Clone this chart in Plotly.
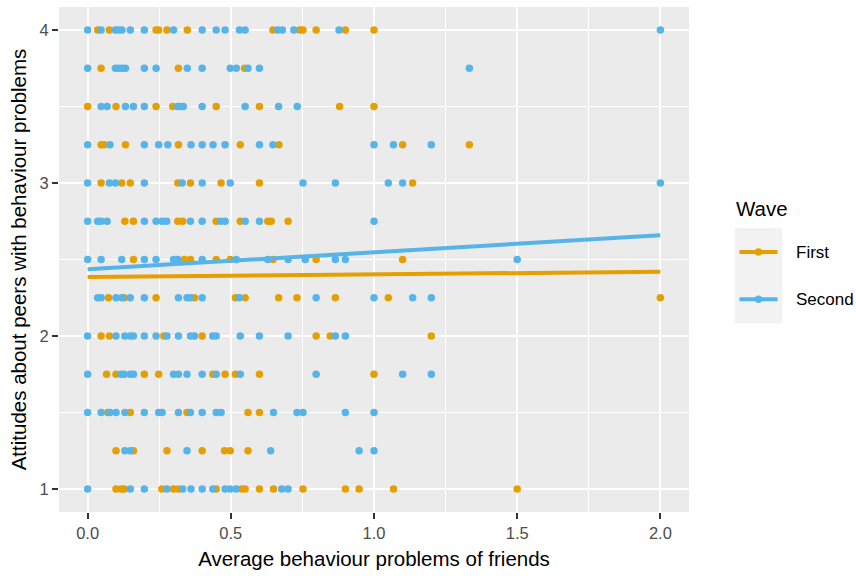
import plotly.graph_objects as go

# ---- data ----
first_rows = [
    (4.00, [0.035, 0.076, 0.239, 0.248, 0.277, 0.348, 0.647, 0.74, 0.752, 0.798, 0.9, 1.0]),
    (3.75, [0.047, 0.317, 0.548]),
    (3.50, [0.0, 0.099, 0.239, 0.297, 0.449, 0.6, 0.88, 1.0]),
    (3.25, [0.047, 0.058, 0.132, 0.317, 0.533, 0.668, 1.1, 1.333]),
    (3.00, [0.047, 0.119, 0.149, 0.315, 0.359, 0.466, 0.6, 1.135]),
    (2.75, [0.13, 0.16, 0.315, 0.332, 0.449, 0.533, 0.629, 0.641, 0.7]),
    (2.50, [0.16, 0.338, 0.359, 0.449, 0.498, 0.647, 0.798, 1.1]),
    (2.25, [0.073, 0.128, 0.239, 0.373, 0.516, 0.55, 0.667, 0.731, 0.865, 1.05, 2.0]),
    (2.00, [0.047, 0.076, 0.266, 0.4, 0.798, 0.847, 1.2]),
    (1.75, [0.066, 0.099, 0.198, 0.248, 0.437, 0.48, 0.516, 0.6, 1.0]),
    (1.50, [0.07, 0.149, 0.347, 0.56, 0.6]),
    (1.25, [0.099, 0.16, 0.277, 0.4, 0.478, 0.498, 0.56]),
    (1.00, [0.099, 0.117, 0.128, 0.259, 0.3, 0.317, 0.449, 0.538, 0.55, 0.6, 0.649, 0.752, 0.9, 0.948, 1.068, 1.5]),
]
second_rows = [
    (4.00, [0.0, 0.047, 0.097, 0.108, 0.12, 0.149, 0.198, 0.3, 0.4, 0.449, 0.48, 0.53, 0.55, 0.664, 0.68, 0.72, 0.878, 2.0]),
    (3.75, [0.0, 0.097, 0.108, 0.12, 0.132, 0.198, 0.239, 0.348, 0.4, 0.498, 0.519, 0.56, 0.6, 1.333]),
    (3.50, [0.047, 0.068, 0.132, 0.16, 0.198, 0.315, 0.323, 0.334, 0.4, 0.55, 0.667, 0.732]),
    (3.25, [0.0, 0.078, 0.198, 0.248, 0.28, 0.361, 0.4, 0.438, 0.48, 0.6, 0.647, 1.0, 1.068, 1.2]),
    (3.00, [0.0, 0.076, 0.097, 0.198, 0.33, 0.4, 0.498, 0.752, 0.865, 1.05, 1.1, 2.0]),
    (2.75, [0.0, 0.035, 0.047, 0.068, 0.198, 0.239, 0.26, 0.276, 0.359, 0.4, 0.464, 0.48, 0.55, 0.6, 1.0]),
    (2.50, [0.0, 0.047, 0.119, 0.198, 0.239, 0.3, 0.315, 0.4, 0.519, 0.629, 0.7, 0.76, 0.865, 0.9, 1.5]),
    (2.25, [0.035, 0.047, 0.099, 0.12, 0.149, 0.198, 0.317, 0.347, 0.359, 0.4, 0.53, 0.798, 1.0, 1.135, 1.2]),
    (2.00, [0.0, 0.099, 0.13, 0.149, 0.16, 0.198, 0.239, 0.277, 0.317, 0.359, 0.373, 0.437, 0.449, 0.533, 0.6, 0.7, 0.865, 0.9]),
    (1.75, [0.0, 0.117, 0.128, 0.149, 0.16, 0.3, 0.317, 0.347, 0.4, 0.449, 0.533, 0.798, 1.1, 1.2]),
    (1.50, [0.0, 0.047, 0.078, 0.099, 0.13, 0.198, 0.248, 0.26, 0.317, 0.359, 0.4, 0.449, 0.466, 0.649, 0.731, 0.752, 0.9, 1.0]),
    (1.25, [0.13, 0.149, 0.347, 0.639, 0.948, 1.0]),
    (1.00, [0.0, 0.149, 0.198, 0.277, 0.332, 0.361, 0.4, 0.437, 0.48, 0.498, 0.519, 0.678, 0.7]),
]

fit_x = [0.0, 2.0]
first_fit = [2.386, 2.420]
second_fit = [2.436, 2.658]

wave_names = ["First", "Second"]
x_ticks = [0.0, 0.5, 1.0, 1.5, 2.0]
x_tick_labels = ["0.0", "0.5", "1.0", "1.5", "2.0"]
y_ticks = [1, 2, 3, 4]
y_tick_labels = ["1", "2", "3", "4"]

ORANGE = "#E69F00"
BLUE = "#56B4E9"
FONT = "Liberation Sans, Arial, sans-serif"


def flatten(rows):
    xs, ys = [], []
    for level, vals in rows:
        for v in vals:
            xs.append(v)
            ys.append(level)
    return xs, ys


fx, fy = flatten(first_rows)
sx, sy = flatten(second_rows)

fig = go.Figure()
fig.add_trace(go.Scatter(x=fx, y=fy, mode="markers", name=wave_names[0],
                         marker=dict(color=ORANGE, size=7.5, line=dict(width=0)),
                         showlegend=False))
fig.add_trace(go.Scatter(x=sx, y=sy, mode="markers", name=wave_names[1],
                         marker=dict(color=BLUE, size=7.5, line=dict(width=0)),
                         showlegend=False))
fig.add_trace(go.Scatter(x=fit_x, y=first_fit, mode="lines", name=wave_names[0],
                         line=dict(color=ORANGE, width=4), showlegend=False))
fig.add_trace(go.Scatter(x=fit_x, y=second_fit, mode="lines", name=wave_names[1],
                         line=dict(color=BLUE, width=4), showlegend=False))

# ---- geometry (pixels) ----
W, H = 856, 576
PL, PR, PT, PB = 59.4, 688.6, 7.0, 512.0


def px(x):
    return (x - PL) / (PR - PL)


def py(y):
    return (PB - y) / (PB - PT)


shapes = []
annotations = []
# legend keys
shapes.append(dict(type="rect", xref="paper", yref="paper", layer="above",
                   x0=px(734.3), x1=px(781.7), y0=py(323.3), y1=py(228.3),
                   fillcolor="#F2F2F2", line=dict(width=0)))
for name, col, yc in [(wave_names[0], ORANGE, 252.0), (wave_names[1], BLUE, 299.3)]:
    shapes.append(dict(type="line", xref="paper", yref="paper", layer="above",
                       x0=px(739), x1=px(777), y0=py(yc), y1=py(yc),
                       line=dict(color=col, width=4)))
    shapes.append(dict(type="circle", xref="paper", yref="paper", layer="above",
                       x0=px(754.3), x1=px(761.7), y0=py(yc + 3.7), y1=py(yc - 3.7),
                       fillcolor=col, line=dict(width=0)))
    annotations.append(dict(text=name, xref="paper", yref="paper", x=px(793), y=py(yc),
                            xanchor="left", yanchor="middle", showarrow=False,
                            font=dict(family=FONT, size=17, color="black")))
annotations.append(dict(text="Wave", xref="paper", yref="paper", x=px(734), y=py(208),
                        xanchor="left", yanchor="middle", showarrow=False,
                        font=dict(family=FONT, size=20.5, color="black")))

axis_common = dict(
    showline=False, zeroline=False,
    showgrid=True, gridcolor="white", gridwidth=2.2,
    ticks="outside", ticklen=6, tickwidth=2, tickcolor="#333333",
    tickfont=dict(family=FONT, size=16.5, color="#4D4D4D"),
)

fig.update_layout(
    width=W, height=H,
    margin=dict(l=PL, r=W - PR, t=PT, b=H - PB, autoexpand=False),
    paper_bgcolor="white", plot_bgcolor="#EBEBEB",
    showlegend=False,
    shapes=shapes, annotations=annotations,
    xaxis=dict(
        range=[-0.1, 2.1], tickmode="array", tickvals=x_ticks, ticktext=x_tick_labels,
        minor=dict(tickmode="array", tickvals=[0.25, 0.75, 1.25, 1.75],
                   showgrid=True, gridcolor="white", gridwidth=1.1, ticks=""),
        title=dict(text="Average behaviour problems of friends", standoff=10,
                   font=dict(family=FONT, size=20.5, color="black")),
        automargin=False,
        **axis_common,
    ),
    yaxis=dict(
        range=[0.85, 4.15], tickmode="array", tickvals=y_ticks, ticktext=y_tick_labels,
        minor=dict(tickmode="array", tickvals=[1.5, 2.5, 3.5],
                   showgrid=True, gridcolor="white", gridwidth=1.1, ticks=""),
        title=dict(text="Attitudes about peers with behaviour problems", standoff=7,
                   font=dict(family=FONT, size=20.5, color="black")),
        automargin=False,
        **axis_common,
    ),
)

fig.write_html(
    "out.html",
    config={"displayModeBar": False},
    post_script="document.body.style.margin='0';document.body.style.padding='0';",
)
